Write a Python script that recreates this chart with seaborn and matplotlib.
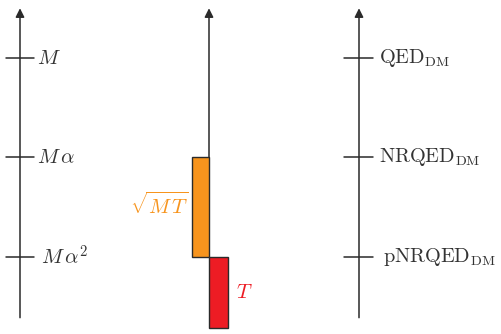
import matplotlib
matplotlib.use("Agg")
import matplotlib.pyplot as plt
import seaborn as sns
import pandas as pd

sns.set_style("white")
plt.rcParams["mathtext.fontset"] = "cm"
plt.rcParams["font.family"] = ["DejaVu Sans"]

# Scale levels (log-order index: M=2, M alpha=1, M alpha^2=0)
scale_labels = [r"$M$", r"$M\,\alpha$", r"$M\,\alpha^2$"]
theory_labels = [r"$\mathrm{QED}_{\mathrm{DM}}$", r"$\mathrm{NRQED}_{\mathrm{DM}}$",
                 r"$\mathrm{pNRQED}_{\mathrm{DM}}$"]
levels = [2, 1, 0]

# Bars: temperature ranges
bar_names = ["sqrtMT", "T"]
bar_bottom = [0.0, -0.71]
bar_top = [1.0, 0.0]
bar_labels = [r"$\sqrt{M\,T}$", r"$T$"]
bar_colors = ["#F7941D", "#ED1C24"]

fig = plt.figure(figsize=(5.01, 3.34), dpi=100)
ax = fig.add_axes([0, 0, 1, 1])
ax.set_xlim(0, 501)
ax.set_ylim(-0.774, 2.583)
ax.axis("off")

dark = "#2a2a2a"
lw = 1.1

def axis_arrow(x, y0, y1):
    ax.annotate("", xy=(x, y1), xytext=(x, y0),
                arrowprops=dict(arrowstyle="-|>", lw=lw, color=dark,
                                mutation_scale=13, shrinkA=0, shrinkB=0))

# left axis
axis_arrow(20, -0.61, 2.50)
for lv, lab in zip(levels, scale_labels):
    ax.plot([6, 34], [lv, lv], color=dark, lw=lw)
    ax.text(37 if lv > 0 else 41, lv, lab, fontsize=15, color="#333333",
            va="center", ha="left")

# right axis
axis_arrow(359, -0.61, 2.50)
for lv, lab in zip(levels, theory_labels):
    ax.plot([344, 373], [lv, lv], color=dark, lw=lw)
    ax.text(379 if lv > 0 else 383, lv, lab, fontsize=14.6, color="#333333",
            va="center", ha="left")

# middle axis
axis_arrow(209, 0.0, 2.50)

df = pd.DataFrame({"name": bar_names, "bottom": bar_bottom, "top": bar_top,
                   "color": bar_colors})
xpos = [200.5, 218.5]
widths = [17, 19]
ax.bar(xpos, df["top"] - df["bottom"], bottom=df["bottom"], width=widths,
       color=df["color"], edgecolor=dark, linewidth=1.0, zorder=3)

ax.text(188, 0.52, bar_labels[0], fontsize=15, color=bar_colors[0],
        ha="right", va="center")
ax.text(236, -0.355, bar_labels[1], fontsize=15, color=bar_colors[1],
        ha="left", va="center")

fig.savefig("out.png", dpi=100)
